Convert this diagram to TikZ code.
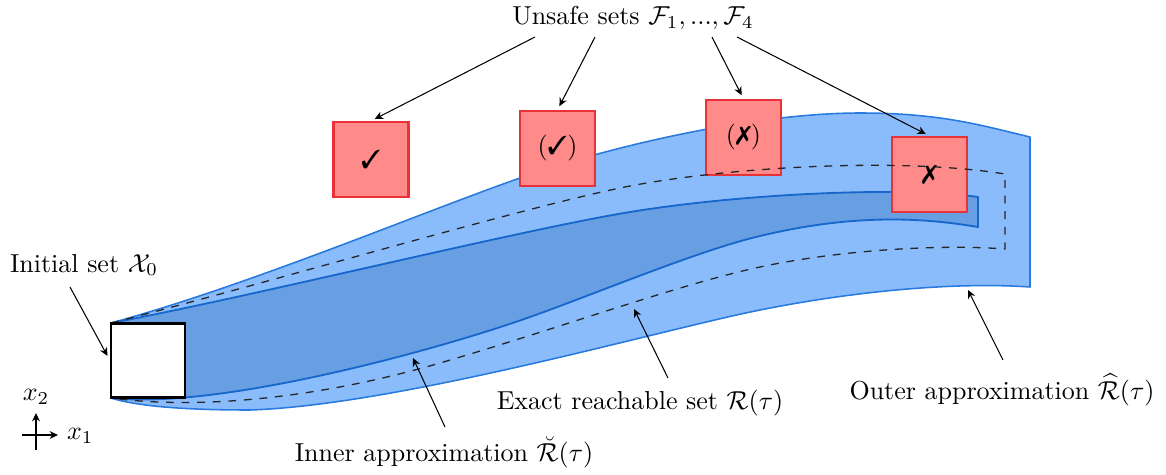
\documentclass[tikz,border=0pt]{standalone}
\usepackage{amsmath,amssymb}
\usepackage{pifont}
\usetikzlibrary{calc,arrows.meta}
\definecolor{outerfill}{RGB}{138,188,252}
\definecolor{outerdraw}{RGB}{40,122,222}
\definecolor{innerfill}{RGB}{104,158,226}
\definecolor{innerdraw}{RGB}{22,102,204}
\definecolor{redfill}{RGB}{255,138,138}
\definecolor{reddraw}{RGB}{232,50,55}
\tikzset{
  unsafebox/.style={draw=reddraw, fill=redfill, line width=0.8pt, minimum width=28.9pt, minimum height=28.9pt, inner sep=0pt},
  initbox/.style={draw=black, fill=white, line width=0.8pt, minimum width=28.5pt, minimum height=28.5pt, inner sep=0pt},
  lbl/.style={inner sep=1pt},
  pointer/.style={-{Stealth[length=3.2pt,width=3pt,inset=1pt]}, line width=0.4pt},
  outerreg/.style={fill=outerfill, draw=outerdraw, line width=0.6pt, line join=round},
  innerreg/.style={fill=innerfill, draw=innerdraw, line width=0.7pt, line join=round},
  exactreg/.style={draw=black!85, dashed, line width=0.5pt}
}
\begin{document}
\begin{tikzpicture}[x=0.385pt,y=-0.385pt]
\useasboundingbox (0,0) rectangle (1166,475);

% outer approximation
\path[outerreg] (111,323) .. controls (250,285) and (420,213) .. (520,178)
  .. controls (620,143) and (760,113) .. (860,113)
  .. controls (940,113) and (980,125) .. (1030,137)
  -- (1030,287)
  .. controls (960,282) and (860,290) .. (760,310)
  .. controls (660,330) and (400,405) .. (250,410)
  .. controls (190,410) and (140,407) .. (111,398) -- cycle;

% inner approximation
\path[innerreg] (111,323) .. controls (250,297) and (520,230) .. (630,212)
  .. controls (740,194) and (900,186) .. (978,197)
  -- (978,227)
  .. controls (930,219) and (860,212) .. (760,236)
  .. controls (700,250) and (600,292) .. (530,317)
  .. controls (440,349) and (220,410) .. (111,398) -- cycle;

% unsafe sets
\node[unsafebox] (f1) at (371,159.5) {\ding{51}};
\node[unsafebox] (f2) at (557.5,148.5) {(\ding{51})};
\node[unsafebox] (f3) at (743.5,137.5) {(\ding{55})};
\node[unsafebox] (f4) at (929.5,174.5) {\ding{55}};

% exact reachable set
\path[exactreg] (111,323) .. controls (250,288) and (530,205) .. (630,186)
  .. controls (730,167) and (900,157) .. (1005,174)
  -- (1005,249)
  .. controls (940,244) and (840,250) .. (760,267)
  .. controls (680,284) and (560,328) .. (440,363)
  .. controls (320,398) and (200,410) .. (111,398) -- cycle;

% initial set
\node[initbox] (x0) at (148,360.5) {};

% labels
\node[lbl] (unsafe) at (633,18) {Unsafe sets $\mathcal{F}_1, ..., \mathcal{F}_4$};
\node[lbl] (init) at (84,265) {Initial set $\mathcal{X}_0$};
\node[lbl] (innerlab) at (444,452) {Inner approximation $\breve{\mathcal{R}}(\tau)$};
\node[lbl] (exactlab) at (640,403) {Exact reachable set $\mathcal{R}(\tau)$};
\node[lbl] (outerlab) at (1002,390) {Outer approximation $\widehat{\mathcal{R}}(\tau)$};

% connector ends
\coordinate (u1) at (535,37);
\coordinate (u2) at (595,37);
\coordinate (u3) at (712,37);
\coordinate (u4) at (737,37);
\coordinate (itail) at (70,287);
\coordinate (intail) at (445,427);
\coordinate (intip) at (413,358);
\coordinate (extail) at (668,378);
\coordinate (extip) at (634,309);
\coordinate (outtail) at (1003,360);
\coordinate (outtip) at (968,290);

\draw[pointer, shorten >=1.6pt] (u1) -- (f1.north);
\draw[pointer, shorten >=1.6pt] (u2) -- (f2.north);
\draw[pointer, shorten >=1.6pt] (u3) -- (f3.north);
\draw[pointer, shorten >=1.6pt] (u4) -- (f4.north);
\draw[pointer, shorten >=2pt] (itail) -- (x0.west);
\draw[pointer] (intail) -- (intip);
\draw[pointer] (extail) -- (extip);
\draw[pointer] (outtail) -- (outtip);

% axes
\coordinate (axr) at (58,435);
\coordinate (axl) at (22,435);
\coordinate (axu) at (36,413);
\coordinate (axd) at (36,450);
\draw[pointer] (axl) -- (axr);
\draw[pointer] (axd) -- (axu);
\node[lbl, anchor=west] (x1lab) at (64,436) {$x_1$};
\node[lbl] (x2lab) at (36,397) {$x_2$};
\end{tikzpicture}
\end{document}
